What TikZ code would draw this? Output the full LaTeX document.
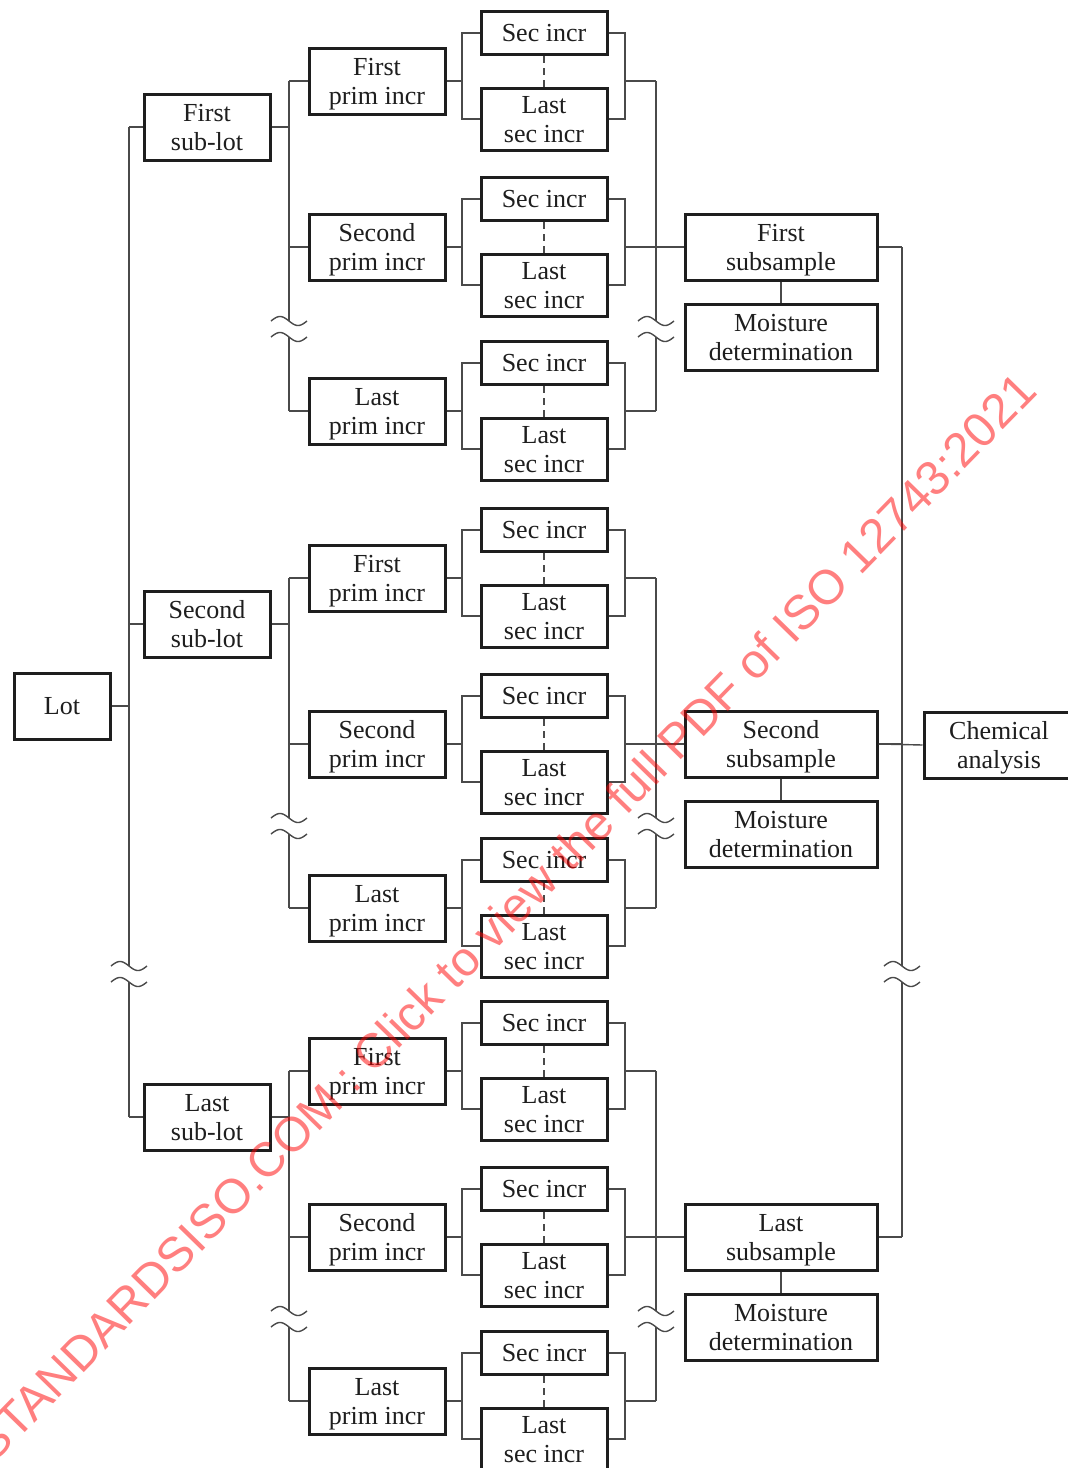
\documentclass[tikz,border=0pt]{standalone}
\usepackage{fontspec}
\setmainfont{Liberation Serif}
\newfontfamily\wmfont{Liberation Sans}
\definecolor{ink}{HTML}{1E1E1E}
\definecolor{wirecol}{HTML}{4A4A4A}
\newcommand\tildebreak[2]{%
  \draw[wire] plot[domain=-18:18, samples=31, smooth] ({#1+\x},{#2-4.5*sin(10*(\x+18))});}
\begin{document}
\begin{tikzpicture}[x=1pt, y=-1pt,
  font=\fontsize{26}{29}\selectfont,
  box/.style={draw=ink, line width=3pt, inner sep=0pt, align=center,
    text=ink, text height=17pt, text depth=0pt},
  two/.style={text height=46pt, text depth=0pt},
  wire/.style={draw=wirecol, line width=1.4pt},
  dashwire/.style={wire, dash pattern=on 7pt off 5pt},
]
\useasboundingbox (0,0) rectangle (1068,1468);
\fill[white] (0,0) rectangle (1068,1468);
\clip (0,0) rectangle (1068,1468);

% vertical bus lines
\coordinate (trunkx) at (129,0);
\coordinate (primbus) at (289,0);
\coordinate (secin) at (462,0);
\coordinate (secout) at (625,0);
\coordinate (subbus) at (656,0);
\coordinate (chembus) at (902,0);
\coordinate (tbA) at (0,966);
\coordinate (tbB) at (0,982);

% lot
\node[box, minimum width=96pt, minimum height=66pt] (lot) at (62,706) {Lot};
\draw[wire] (lot.east) -- (lot.east -| trunkx);

\foreach \g/\F/\gn in {1/81/First, 2/578/Second, 3/1071/Last}{
  % sub-lot
  \node[box, two, minimum width=126pt, minimum height=66pt] (sub\g) at (207,\F+46) {\gn\\sub-lot};
  \draw[wire] (trunkx |- sub\g.west) -- (sub\g.west);
  \draw[wire] (sub\g.east) -- (sub\g.east -| primbus);
  \coordinate (bk\g a) at (0,\F+240);
  \coordinate (bk\g b) at (0,\F+256);
  % primary increments with their secondary increments
  \foreach \k/\dy/\kn in {1/0/First, 2/166/Second, 3/330/Last}{
    \node[box, two, minimum width=136pt, minimum height=66pt] (p\g\k) at (377,\F+\dy) {\kn\\prim incr};
    \node[box, minimum width=126pt, minimum height=43pt] (s\g\k) at (544,\F+\dy-48) {Sec incr};
    \node[box, two, minimum width=126pt, minimum height=62pt] (l\g\k) at (544,\F+\dy+38) {Last\\sec incr};
    \draw[wire] (primbus |- p\g\k.west) -- (p\g\k.west);
    \draw[wire] (p\g\k.east) -- (p\g\k.east -| secin);
    \draw[wire] (s\g\k.west) -- (s\g\k.west -| secin) -- (l\g\k.west -| secin) -- (l\g\k.west);
    \draw[wire] (s\g\k.east) -- (s\g\k.east -| secout) -- (l\g\k.east -| secout) -- (l\g\k.east);
    \draw[dashwire] (s\g\k.south) -- (l\g\k.north);
  }
  % subsample and moisture determination
  \node[box, two, minimum width=192pt, minimum height=66pt] (ss\g) at (781,\F+166) {\gn\\subsample};
  \node[box, two, minimum width=192pt, minimum height=66pt] (md\g) at (781,\F+256) {Moisture\\determination};
  \draw[wire] (ss\g.south) -- (md\g.north);
  \draw[wire] (p\g1.east -| secout) -- (p\g1.east -| subbus);
  \draw[wire] (p\g3.east -| secout) -- (p\g3.east -| subbus);
  \draw[wire] (p\g2.east -| secout) -- (ss\g.west);
  \draw[wire] (ss\g.east) -- (ss\g.east -| chembus);
  % broken buses
  \draw[wire] (primbus |- p\g1.west) -- (primbus |- bk\g a);
  \draw[wire] (primbus |- bk\g b) -- (primbus |- p\g3.west);
  \draw[wire] (subbus |- p\g1.east) -- (subbus |- bk\g a);
  \draw[wire] (subbus |- bk\g b) -- (subbus |- p\g3.east);
  \tildebreak{289}{\F+240}
  \tildebreak{289}{\F+256}
  \tildebreak{656}{\F+240}
  \tildebreak{656}{\F+256}
}

% trunk and right-hand bus
\draw[wire] (trunkx |- sub1.west) -- (trunkx |- tbA);
\draw[wire] (trunkx |- tbB) -- (trunkx |- sub3.west);
\draw[wire] (chembus |- ss1.east) -- (chembus |- tbA);
\draw[wire] (chembus |- tbB) -- (chembus |- ss3.east);
\tildebreak{129}{966}
\tildebreak{129}{982}
\tildebreak{902}{966}
\tildebreak{902}{982}

% chemical analysis
\node[box, two, minimum width=150pt, minimum height=66pt] (chem) at (999,745) {Chemical\\analysis};
\draw[wire] (ss2.east) -- (chem.west);

% watermark
\node[rotate=45.7, text=red, text opacity=0.5, font=\wmfont\fontsize{48.3}{49}\selectfont]
  (wm) at (504,917) {STANDARDSISO.COM : Click to view the full PDF of ISO 12743:2021};
\end{tikzpicture}
\end{document}
